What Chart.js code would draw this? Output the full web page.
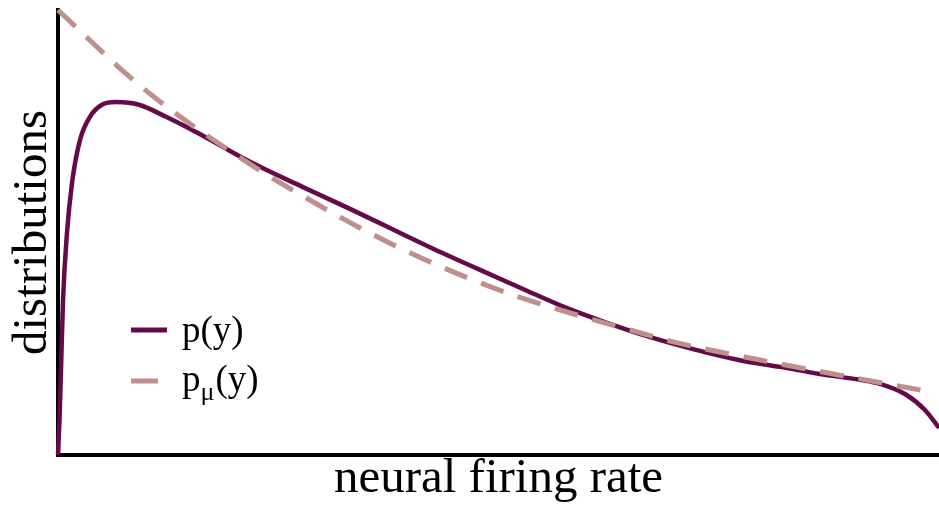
<!DOCTYPE html>
<html>
<head>
<meta charset="utf-8">
<script src="https://cdn.jsdelivr.net/npm/chart.js@4/dist/chart.umd.min.js"></script>
<style>
  html,body{margin:0;padding:0;background:#fff;}
  #wrap{width:939px;height:507px;position:relative;}
</style>
</head>
<body>
<div id="wrap"><canvas id="chart"></canvas></div>
<script>
// firing rate (x) and density (y), both on a 0-100 scale
const pX = [0, 0.17, 0.34, 0.57, 1.02, 1.59, 2.5, 3.63, 4.99, 6.58, 9.19, 12.26, 15.66, 18.73, 22.47, 27.81, 33.14, 37.68, 42.22, 47.9, 52.78, 57.78, 62.32, 66.86, 72.08, 77.41, 81.95, 86.49, 91.03, 93.3, 96.14, 98.41, 100];
const pY = [0, 7.9, 19.1, 34.8, 49.9, 61.1, 70.8, 76.0, 78.7, 79.3, 78.7, 76.0, 72.6, 69.2, 65.2, 60.2, 55.3, 51.0, 46.7, 41.6, 37.3, 33.0, 29.7, 26.7, 23.8, 21.3, 19.8, 18.2, 16.9, 16.0, 13.7, 10.1, 6.1];
const muX = [0, 4.31, 8.17, 11.92, 15.66, 19.86, 23.61, 27.36, 32.8, 37.68, 42.22, 46.77, 51.31, 55.85, 60.39, 64.93, 69.47, 74.01, 78.55, 84.22, 91.03, 98.41];
const muY = [100, 91.9, 84.9, 78.9, 73.5, 67.9, 63.1, 58.7, 52.6, 47.6, 43.4, 39.6, 36.2, 33.3, 30.6, 28.1, 25.6, 23.6, 21.8, 19.6, 17.1, 14.4];
const xTitle = 'neural firing rate';
const yTitle = 'distributions';

const SOLID = '#650a48', DASHED = '#bf8f8c';
const serif = 'Liberation Serif';
const pts = (xs, ys) => xs.map((x, i) => ({x, y: ys[i]}));

// legend drawn by hand so the mu can sit as a subscript
const legendPlugin = {
  id: 'subLegend',
  afterDatasetsDraw(chart){
    const c = chart.ctx;
    c.save();
    c.lineCap = 'butt';
    c.lineWidth = 5;
    c.strokeStyle = SOLID;
    c.beginPath(); c.moveTo(131, 330); c.lineTo(167, 330); c.stroke();
    c.strokeStyle = DASHED;
    c.beginPath(); c.moveTo(131, 381); c.lineTo(158, 381); c.stroke();
    c.fillStyle = '#000';
    c.textBaseline = 'alphabetic';
    c.font = '37px "' + serif + '"';
    c.fillText('p(y)', 182, 342);
    c.fillText('p', 182, 391);
    const w = c.measureText('p').width;
    c.font = '26px "' + serif + '"';
    c.fillText('\u03bc', 182 + w, 400);
    const w2 = c.measureText('\u03bc').width;
    c.font = '37px "' + serif + '"';
    c.fillText('(y)', 182 + w + w2 + 1, 391);
    c.restore();
  }
};

new Chart(document.getElementById('chart'), {
  type: 'line',
  data: {
    datasets: [
      { label: 'p(y)', data: pts(pX, pY), borderColor: SOLID, borderWidth: 4.5,
        pointRadius: 0, cubicInterpolationMode: 'monotone', clip: false, order: 1 },
      { label: 'p\u03bc(y)', data: pts(muX, muY), borderColor: DASHED, borderWidth: 5,
        borderDash: [24, 15], pointRadius: 0, cubicInterpolationMode: 'monotone', clip: false, order: 0 }
    ]
  },
  options: {
    responsive: true, maintainAspectRatio: false, animation: false,
    layout: { padding: { top: 10, right: 0, left: 0, bottom: 0 } },
    plugins: { legend: { display: false }, tooltip: { enabled: false } },
    scales: {
      x: {
        type: 'linear', min: 0, max: 100,
        grid: { display: false, drawTicks: false },
        border: { display: true, color: '#000', width: 4 },
        ticks: { display: false },
        title: { display: true, text: xTitle, color: '#000',
          font: { family: serif, size: 49, lineHeight: 1 }, padding: { top: 0, bottom: 3 } }
      },
      y: {
        min: 0, max: 100,
        grid: { display: false, drawTicks: false },
        border: { display: true, color: '#000', width: 4 },
        ticks: { display: false },
        title: { display: true, text: yTitle, color: '#000',
          font: { family: serif, size: 49, lineHeight: 1 }, padding: { top: 9, bottom: 0 } }
      }
    }
  },
  plugins: [legendPlugin]
});
</script>
</body>
</html>
